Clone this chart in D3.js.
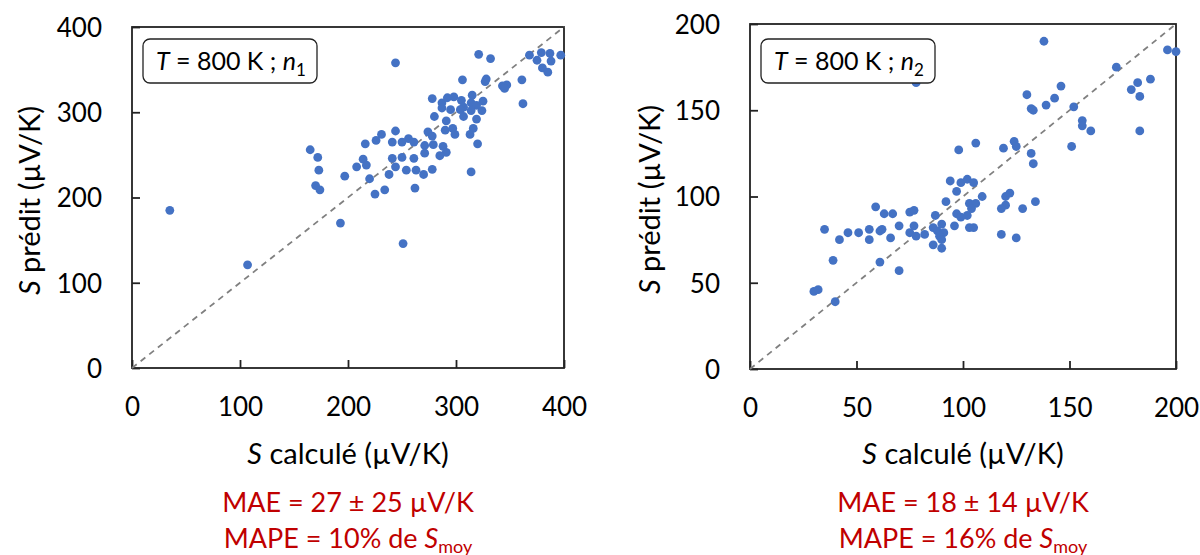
<!DOCTYPE html>
<html><head><meta charset="utf-8">
<script src="https://cdn.jsdelivr.net/npm/d3@7"></script>
<style>
html,body{margin:0;padding:0;background:#fff;}
svg{display:block;font-family:Lato,"Open Sans",sans-serif;}
</style></head><body>
<svg id="c" width="1200" height="555"></svg>
<script>
// ---- data (S calculé, S prédit) in µV/K ----
const pointsN1 = [[35,185],[107,121],[244,358],[193,170],[251,146],[321,368],[332,363],[368,367],[379,370],[387,369],[397,367],[375,361],[388,360],[380,352],[385,347],[361,338],[362,310],[343,331],[347,332],[345,328],[327,336],[328,339],[306,338],[278,316],[287,311],[292,317],[298,318],[287,305],[295,303],[305,314],[307,306],[304,303],[315,320],[314,311],[319,308],[325,313],[324,302],[314,302],[307,295],[319,292],[280,295],[291,290],[290,279],[297,281],[299,274],[316,281],[313,274],[320,263],[314,230],[274,277],[278,272],[271,261],[279,262],[271,252],[288,260],[291,253],[285,249],[278,233],[270,227],[263,232],[254,232],[262,211],[261,246],[256,269],[261,265],[250,265],[244,278],[241,265],[241,246],[250,247],[244,236],[238,227],[231,274],[226,267],[216,263],[214,245],[217,238],[208,236],[220,222],[225,204],[234,209],[197,225],[165,256],[172,247],[173,232],[170,214],[174,209]];
const pointsN2 = [[138,190],[78,166],[196,185],[200,184],[172,175],[182,166],[188,168],[179,162],[183,158],[183,138],[146,164],[143,157],[139,153],[130,159],[132,151],[133,150],[152,152],[156,144],[156,141],[160,138],[151,129],[124,132],[125,129],[119,128],[132,125],[133,119],[106,131],[98,127],[94,109],[99,108],[102,110],[105,108],[97,103],[109,100],[92,97],[103,96],[106,96],[104,93],[102,89],[97,90],[99,88],[87,89],[96,83],[103,82],[105,82],[120,100],[122,102],[120,95],[118,93],[128,93],[134,97],[118,78],[125,76],[90,84],[86,82],[88,80],[91,79],[89,77],[90,75],[86,72],[90,70],[82,78],[78,77],[75,79],[77,83],[70,83],[75,91],[77,92],[67,90],[63,90],[59,94],[62,81],[61,80],[56,81],[56,75],[66,76],[51,79],[46,79],[35,81],[42,75],[39,63],[61,62],[70,57],[40,39],[30,45],[32,46]];
const ticksN1 = [0,100,200,300,400];
const ticksN2 = [0,50,100,150,200];
const subscripts = ["1","2"];
const maeTexts = ["MAE = 27 ± 25 µV/K","MAE = 18 ± 14 µV/K"];
const mapeTexts = ["MAPE = 10% de ","MAPE = 16% de "];
const xTitle = "calculé (µV/K)";
const yTitle = "prédit (µV/K)";

const panels = [
  {pts: pointsN1, ticks: ticksN1, max: 400, x0: 132, x1: 564, y0: 368, y1: 27, sub: subscripts[0], mae: maeTexts[0], mape: mapeTexts[0], ytx: 40},
  {pts: pointsN2, ticks: ticksN2, max: 200, x0: 750, x1: 1176, y0: 369, y1: 24, sub: subscripts[1], mae: maeTexts[1], mape: mapeTexts[1], ytx: 660}
];

const svg = d3.select("#c");
const FS = 26;
const TFS = 29;

panels.forEach(p => {
  const x = d3.scaleLinear().domain([0, p.max]).range([p.x0, p.x1]);
  const y = d3.scaleLinear().domain([0, p.max]).range([p.y0, p.y1]);
  const g = svg.append("g");

  // frame
  g.append("rect").attr("x", p.x0).attr("y", p.y1).attr("width", p.x1 - p.x0).attr("height", p.y0 - p.y1)
    .attr("fill", "none").attr("stroke", "#222").attr("stroke-width", 1.8);

  // axes
  const ax = g.append("g").attr("transform", `translate(0,${p.y0})`)
    .call(d3.axisBottom(x).tickValues(p.ticks).tickSize(-8).tickSizeOuter(0).tickPadding(30));
  const ay = g.append("g").attr("transform", `translate(${p.x0},0)`)
    .call(d3.axisLeft(y).tickValues(p.ticks).tickSize(-8).tickSizeOuter(0).tickPadding(30));
  [ax, ay].forEach(a => {
    a.select(".domain").remove();
    a.selectAll(".tick line").attr("stroke", "#222").attr("stroke-width", 1.8);
    a.selectAll(".tick text").attr("font-family", "Lato, sans-serif").attr("font-size", FS).attr("fill", "#000");
  });
  ay.selectAll(".tick text").attr("dy", "0.36em");

  // diagonal
  g.append("line").attr("x1", x(0)).attr("y1", y(0)).attr("x2", x(p.max)).attr("y2", y(p.max))
    .attr("stroke", "#808080").attr("stroke-width", 1.8).attr("stroke-dasharray", "6,5");

  // points
  g.selectAll("circle.pt").data(p.pts).join("circle").attr("class", "pt")
    .attr("cx", d => x(d[0])).attr("cy", d => y(d[1])).attr("r", 4.4).attr("fill", "#4472C4");

  // legend box
  const lx = p.x0 + 11, ly = 39;
  g.append("rect").attr("x", lx).attr("y", ly).attr("width", 174).attr("height", 44).attr("rx", 7)
    .attr("fill", "#fff").attr("stroke", "#222").attr("stroke-width", 1.3);
  const lt = g.append("text").attr("x", lx + 13).attr("y", ly + 31).attr("font-size", 25).attr("fill", "#000");
  lt.append("tspan").attr("font-style", "italic").text("T");
  lt.append("tspan").text(" = 800 K ; ");
  lt.append("tspan").attr("font-style", "italic").text("n");
  lt.append("tspan").attr("font-size", 17).attr("dy", 6).text(p.sub);

  // axis titles
  const cx = (p.x0 + p.x1) / 2;
  const xt = g.append("text").attr("x", cx).attr("y", 464).attr("text-anchor", "middle").attr("font-size", TFS).attr("fill", "#000");
  xt.append("tspan").attr("font-style", "italic").text("S");
  xt.append("tspan").text(" " + xTitle);
  const cy = (p.y0 + p.y1) / 2;
  const yt = g.append("text").attr("transform", `translate(${p.ytx},${cy + 3}) rotate(-90)`)
    .attr("text-anchor", "middle").attr("font-size", TFS).attr("fill", "#000");
  yt.append("tspan").attr("font-style", "italic").text("S");
  yt.append("tspan").text(" " + yTitle);

  // metrics
  g.append("text").attr("x", cx).attr("y", 512).attr("text-anchor", "middle").attr("font-size", FS + 1)
    .attr("fill", "#C00000").text(p.mae);
  const mt = g.append("text").attr("x", cx).attr("y", 548).attr("text-anchor", "middle").attr("font-size", FS + 1).attr("fill", "#C00000");
  mt.append("tspan").text(p.mape);
  mt.append("tspan").attr("font-style", "italic").text("S");
  mt.append("tspan").attr("font-size", 18).attr("dy", 5).text("moy");
});
</script>
</body></html>
